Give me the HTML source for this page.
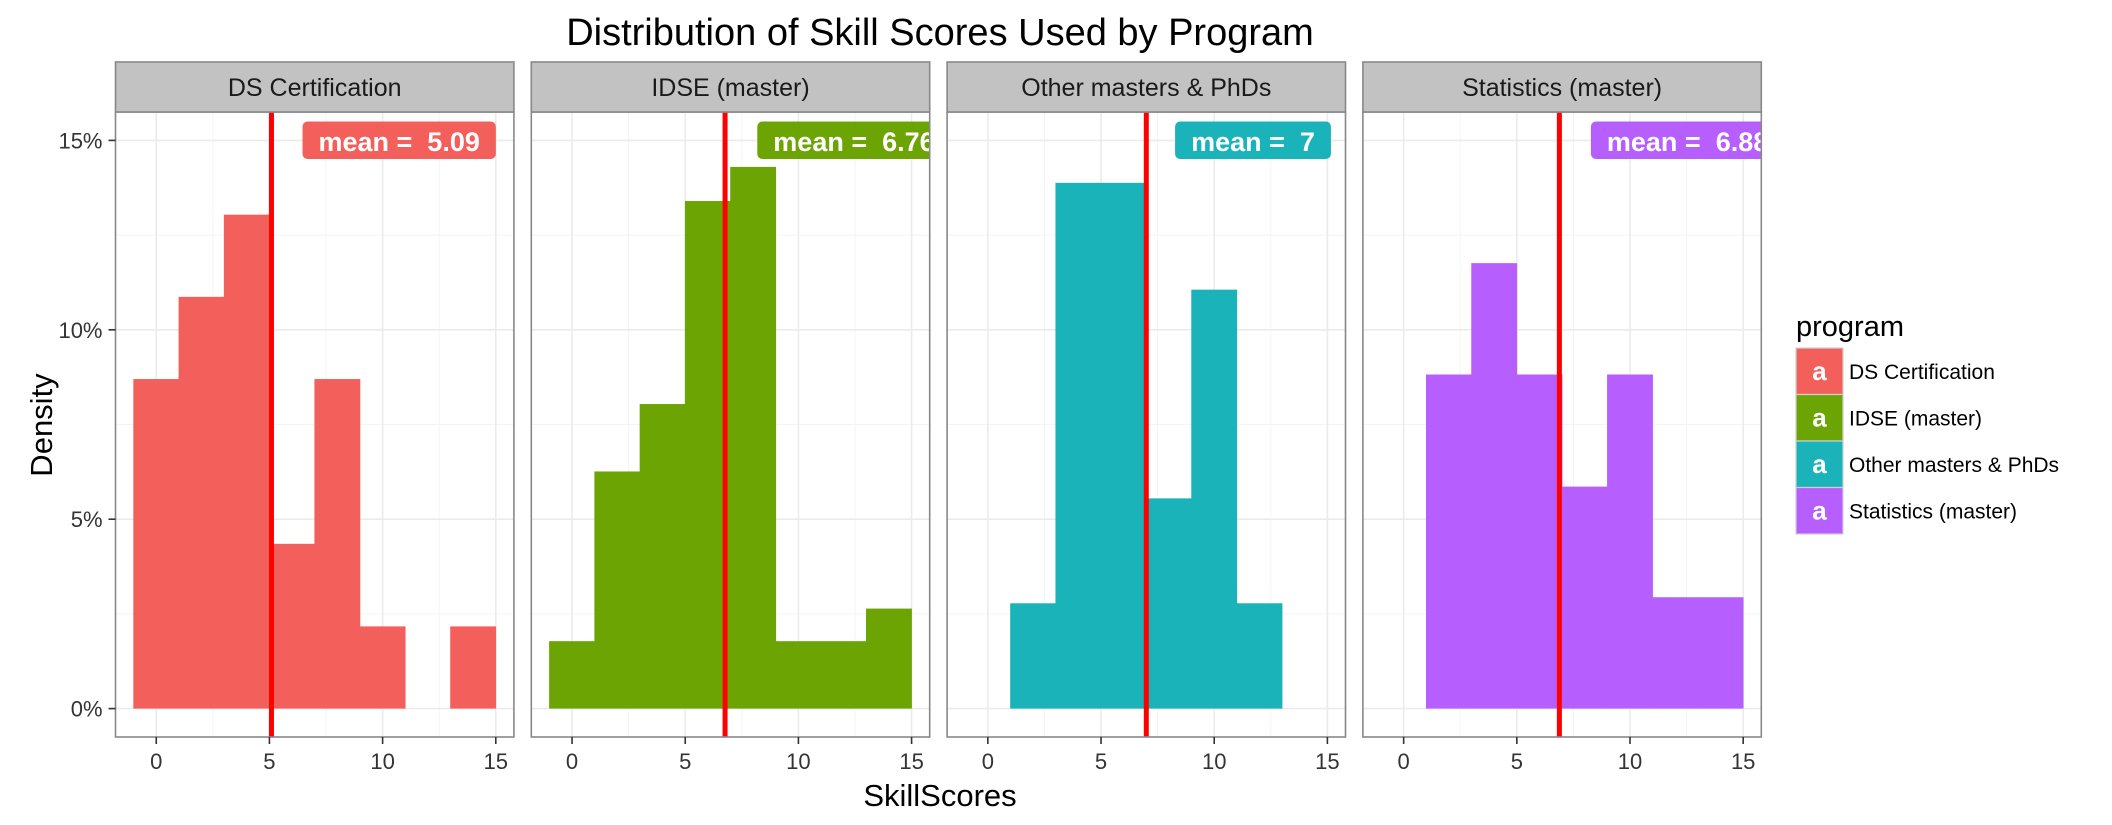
<!DOCTYPE html>
<html><head><meta charset="utf-8"><style>
html,body{margin:0;padding:0;background:#fff}
svg{display:block;font-family:"Liberation Sans",Arial,sans-serif}
text{white-space:pre}
</style></head><body>
<svg id="chart" width="2112" height="825" viewBox="0 0 2112 825" xmlns="http://www.w3.org/2000/svg" xml:space="preserve">
<text x="940" y="45" font-size="38" text-anchor="middle" fill="#000">Distribution of Skill Scores Used by Program</text>
<text x="0" y="0" font-size="31" text-anchor="middle" transform="translate(52,425) rotate(-90)" fill="#000">Density</text>
<text x="940" y="806" font-size="31" text-anchor="middle" fill="#000">SkillScores</text>
<g id="panels"></g>
<g id="legend"></g>
</svg>
<script>
const programs = ["DS Certification","IDSE (master)","Other masters & PhDs","Statistics (master)"];
const colors = ["#F3605C","#6CA404","#19B3B9","#B75EFF"];
const binEdges = [-1,1,3,5,7,9,11,13,15];
const densDS = [8.70,10.87,13.04,4.35,8.70,2.17,0,2.17];
const densIDSE = [1.78,6.26,8.04,13.4,14.3,1.78,1.78,2.64];
const densOther = [0,2.78,13.88,13.88,5.55,11.06,2.78,0];
const densStat = [0,8.82,11.76,8.82,5.86,8.82,2.94,2.94];
const means = [5.09,6.76,7.0,6.88];
const meanLabels = ["mean =  5.09","mean =  6.76","mean =  7","mean =  6.88"];
const xTicks = [0,5,10,15];
const yTicks = [0,5,10,15];
const yTickLabels = ["0%","5%","10%","15%"];
const allDens = [densDS,densIDSE,densOther,densStat];

const NS="http://www.w3.org/2000/svg";
const g=document.getElementById('panels');
function mk(tag,attrs,parent){const e=document.createElementNS(NS,tag);for(const k in attrs)e.setAttribute(k,attrs[k]);(parent||g).appendChild(e);return e;}
const PW=398.4, PT=112, PB=737, ST=62;
const xMin=-1.8, xMax=15.8, yMin=-0.75, yMax=15.75;
const labelOffsets=[187,226,228,228];
programs.forEach((p,i)=>{
  const L=115.5+i*415.8;
  const X=v=>L+(v-xMin)/(xMax-xMin)*PW;
  const Y=v=>PB-(v-yMin)/(yMax-yMin)*(PB-PT);
  const pg=mk('g',{},g);
  
  
  const cp=mk('clipPath',{id:'clip'+i},pg);
  mk('rect',{x:L,y:PT,width:PW,height:PB-PT},cp);
  const bg=mk('rect',{x:L,y:PT,width:PW,height:PB-PT,fill:'#fff'},pg);
  
  
  for(let v=-2.5;v<=17.5;v+=5){ if(v>xMin&&v<xMax) mk('line',{x1:X(v),x2:X(v),y1:PT,y2:PB,stroke:'#f4f4f4','stroke-width':1},pg);}
  for(let v=2.5;v<=12.5;v+=5){ mk('line',{x1:L,x2:L+PW,y1:Y(v),y2:Y(v),stroke:'#f4f4f4','stroke-width':1},pg);}
  xTicks.forEach(v=>mk('line',{x1:X(v),x2:X(v),y1:PT,y2:PB,stroke:'#ebebeb','stroke-width':1.6},pg));
  yTicks.forEach(v=>mk('line',{x1:L,x2:L+PW,y1:Y(v),y2:Y(v),stroke:'#ebebeb','stroke-width':1.6},pg));
  const d=allDens[i];
  d.forEach((v,j)=>{ if(v<=0) return;
    const r=mk('rect',{x:X(binEdges[j])-0.3,y:Y(v),width:X(binEdges[j+1])-X(binEdges[j])+0.6,height:Y(0)-Y(v),fill:colors[i]},pg);
    
    
  });
  const ml=mk('line',{x1:X(means[i]),x2:X(means[i]),y1:PT,y2:PB,stroke:'#ff0000','stroke-width':5},pg);
  
  
  const lg=mk('g',{'clip-path':'url(#clip'+i+')'},pg);
  
  
  const lx=L+labelOffsets[i];
  const t=mk('text',{x:lx+16,y:151,'font-size':27,'font-weight':'bold',fill:'#fff'},lg);
  t.textContent=meanLabels[i];
  const tw=t.getComputedTextLength();
  const rr=mk('rect',{x:lx,y:121.5,width:tw+32,height:37.5,rx:5,fill:colors[i]},lg);
  lg.insertBefore(rr,t);
  mk('rect',{x:L,y:PT,width:PW,height:PB-PT,fill:'none',stroke:'#888','stroke-width':1.6},pg);
  const st=mk('rect',{x:L,y:ST,width:PW,height:PT-ST,fill:'#c2c2c2',stroke:'#888','stroke-width':1.6},pg);
  
  
  const stt=mk('text',{x:L+PW/2,y:96,'font-size':25,'text-anchor':'middle',fill:'#1a1a1a'},pg);
  
  
  stt.textContent=p;
  xTicks.forEach(v=>{
    mk('line',{x1:X(v),x2:X(v),y1:PB,y2:PB+7,stroke:'#333','stroke-width':1.6},pg);
    const tl=mk('text',{x:X(v),y:769,'font-size':22,'text-anchor':'middle',fill:'#333'},pg);
    
    
    tl.textContent=v;
  });
  if(i===0){
    yTicks.forEach((v,k)=>{
      mk('line',{x1:L-7,x2:L,y1:Y(v),y2:Y(v),stroke:'#333','stroke-width':1.6},pg);
      const tl=mk('text',{x:L-13,y:Y(v)+8,'font-size':22,'text-anchor':'end',fill:'#333'},pg);
      
      
      tl.textContent=yTickLabels[k];
    });
  }
});
const lgd=document.getElementById('legend');
const lt=mk('text',{x:1796,y:336,'font-size':29,fill:'#000'},lgd);


lt.textContent='program';
programs.forEach((p,i)=>{
  const y=348+i*46.5;
  const eg=mk('g',{},lgd);
  
  
  mk('rect',{x:1796,y:y,width:47,height:46.5,fill:colors[i],stroke:'#d0d0d0','stroke-width':1.2},eg);
  const a=mk('text',{x:1819.5,y:y+32,'font-size':26,'font-weight':'bold','text-anchor':'middle',fill:'#fff'},eg);
  a.textContent='a';
  const tl=mk('text',{x:1849,y:y+31,'font-size':21,fill:'#000'},eg);
  tl.textContent=p;
});
</script>
</body></html>
